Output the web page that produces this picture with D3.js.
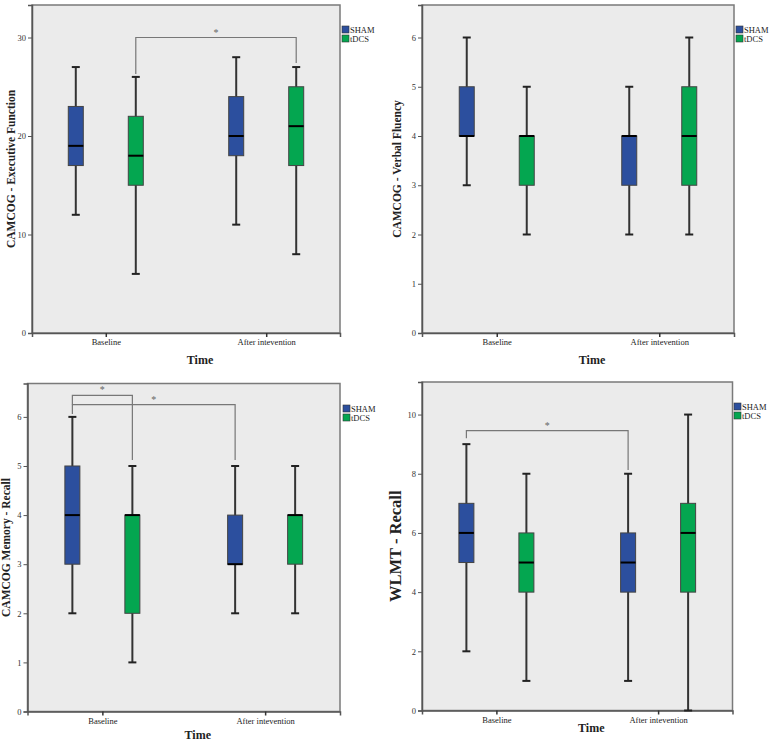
<!DOCTYPE html>
<html>
<head>
<meta charset="utf-8">
<script src="https://cdn.jsdelivr.net/npm/d3@7"></script>
<style>
  body { margin: 0; background: #fff; }
  svg { display: block; }
  text { font-family: "Liberation Serif", "Times New Roman", serif; }
</style>
</head>
<body>
<div id="chart"></div>
<script>
// categories and groups
const times = ["Baseline", "After intervention"];
const timeLabels = [["Baseline", "After intevention"], ["Baseline", "After intevention"],
                    ["Baseline", "After intevention"], ["Baseline", "After intevention"]];
const groups = ["SHAM", "tDCS"];

// box stats: [min, q1, median, q3, max] in order SHAM-Baseline, tDCS-Baseline, SHAM-After, tDCS-After
const execFunction = [[12, 17, 19, 23, 27], [6, 15, 18, 22, 26], [11, 18, 20, 24, 28], [8, 17, 21, 25, 27]];
const verbalFluency = [[3, 4, 4, 5, 6], [2, 3, 4, 4, 5], [2, 3, 4, 4, 5], [2, 3, 4, 5, 6]];
const memoryRecall = [[2, 3, 4, 5, 6], [1, 2, 4, 4, 5], [2, 3, 3, 4, 5], [2, 3, 4, 4, 5]];
const wlmtRecall = [[2, 5, 6, 7, 9], [1, 4, 5, 6, 8], [1, 4, 5, 6, 8], [0, 4, 6, 7, 10]];

const yTitles = ["CAMCOG - Executive Function", "CAMCOG - Verbal Fluency", "CAMCOG Memory - Recall", "WLMT - Recall"];
const yTicks = [[0, 10, 20, 30], [0, 1, 2, 3, 4, 5, 6], [0, 1, 2, 3, 4, 5, 6], [0, 2, 4, 6, 8, 10]];
const yMax = [33.3, 6.66, 6.68, 11.1];

// significance brackets: [fromIndex, toIndex, level, leftDrop, rightDrop]
const sigExec = [[1, 3, 30, 26.3, 27.4]];
const sigVerbal = [];
const sigMemory = [[0, 1, 6.44, 6.25, 5.12], [0, 2, 6.25, 6.06, 5.12]];
const sigWlmt = [[0, 2, 9.46, 9.2, 8.13]];

const colors = { SHAM: "#2c4f9e", tDCS: "#04a650" };

const panels = [
  { stats: execFunction, sig: sigExec, frame: [32, 5, 340, 333], titleX: 11, titleSize: 11.5, timeY: 364, legend: [342, 26] },
  { stats: verbalFluency, sig: sigVerbal, frame: [422, 5, 734, 333], titleX: 397, titleSize: 11.5, timeY: 364, legend: [736, 26] },
  { stats: memoryRecall, sig: sigMemory, frame: [27.5, 383.5, 340, 711.5], titleX: 6, titleSize: 11.5, timeY: 739, legend: [343, 405] },
  { stats: wlmtRecall, sig: sigWlmt, frame: [422, 382, 732.5, 710.5], titleX: 395, titleSize: 16.5, timeY: 732, legend: [734, 403] }
];

const svg = d3.select("#chart").append("svg")
  .attr("width", 771)
  .attr("height", 742);

panels.forEach((p, i) => {
  const [x0, y0, x1, y1] = p.frame;
  const g = svg.append("g");

  const x = d3.scalePoint().domain(times).range([x0, x1]).padding(0.46);
  const xg = d3.scalePoint().domain(groups).range([-30, 30]);
  const y = d3.scaleLinear().domain([0, yMax[i]]).range([y1, y0]);
  const boxW = 15;

  const cells = [];
  times.forEach((t, ti) => groups.forEach((gr, gi) => {
    cells.push({ time: t, group: gr, s: p.stats[ti * 2 + gi] });
  }));
  const cx = d => x(d.time) + xg(d.group);

  // plot area
  g.append("rect")
    .attr("x", x0).attr("y", y0)
    .attr("width", x1 - x0).attr("height", y1 - y0)
    .attr("fill", "#ebebeb")
    .attr("stroke", "#7a7a7a").attr("stroke-width", 1.5);

  // axes
  const yAxis = d3.axisLeft(y).tickValues(yTicks[i]).tickFormat(d3.format("d")).tickSize(4).tickPadding(2);
  const ya = g.append("g").attr("transform", `translate(${x0},0)`).call(yAxis);
  ya.select(".domain").attr("stroke", "#555").attr("stroke-width", 1.5);
  ya.selectAll(".tick line").attr("stroke", "#555");
  ya.selectAll(".tick text").attr("font-family", "Liberation Serif, serif").attr("font-size", 8.5).attr("fill", "#333");

  const xAxis = d3.axisBottom(x).tickSize(4).tickPadding(2).tickFormat((d, k) => timeLabels[i][k]);
  const xa = g.append("g").attr("transform", `translate(0,${y1})`).call(xAxis);
  xa.select(".domain").attr("stroke", "#555").attr("stroke-width", 1.5);
  xa.selectAll(".tick line").attr("stroke", "#333").attr("stroke-width", 1.5);
  xa.selectAll(".tick text").attr("font-family", "Liberation Serif, serif").attr("font-size", 8.5).attr("fill", "#222");

  // whiskers
  const bx = g.selectAll(".bx").data(cells).join("g").attr("class", "bx");
  bx.append("line")
    .attr("x1", cx).attr("x2", cx)
    .attr("y1", d => y(d.s[0])).attr("y2", d => y(d.s[4]))
    .attr("stroke", "#333").attr("stroke-width", 2);
  [0, 4].forEach(k => {
    bx.append("line")
      .attr("x1", d => cx(d) - 4).attr("x2", d => cx(d) + 4)
      .attr("y1", d => y(d.s[k])).attr("y2", d => y(d.s[k]))
      .attr("stroke", "#222").attr("stroke-width", 2);
  });
  bx.append("rect")
    .attr("x", d => cx(d) - boxW / 2).attr("width", boxW)
    .attr("y", d => y(d.s[3])).attr("height", d => y(d.s[1]) - y(d.s[3]))
    .attr("fill", d => colors[d.group])
    .attr("stroke", "#444").attr("stroke-width", 1);
  bx.append("line")
    .attr("x1", d => cx(d) - boxW / 2).attr("x2", d => cx(d) + boxW / 2)
    .attr("y1", d => y(d.s[2])).attr("y2", d => y(d.s[2]))
    .attr("stroke", "#000").attr("stroke-width", 2);

  // significance brackets
  p.sig.forEach(b => {
    const a = cells[b[0]], c = cells[b[1]];
    const xa_ = cx(a), xc = cx(c);
    g.append("path")
      .attr("d", `M${xa_},${y(b[3])}V${y(b[2])}H${xc}V${y(b[4])}`)
      .attr("fill", "none").attr("stroke", "#777").attr("stroke-width", 1.2);
    g.append("text")
      .attr("x", (xa_ + xc) / 2).attr("y", y(b[2]) - 2)
      .attr("text-anchor", "middle")
      .attr("font-size", 10).attr("fill", "#666")
      .text("*");
  });

  // titles
  g.append("text")
    .attr("transform", `translate(${p.titleX},${(y0 + y1) / 2}) rotate(-90)`)
    .attr("text-anchor", "middle")
    .attr("dominant-baseline", "central")
    .attr("font-weight", "bold").attr("font-size", p.titleSize).attr("fill", "#222")
    .text(yTitles[i]);
  g.append("text")
    .attr("x", (x0 + x1) / 2 + 14).attr("y", p.timeY)
    .attr("text-anchor", "middle")
    .attr("font-weight", "bold").attr("font-size", 12).attr("fill", "#222")
    .text("Time");

  // legend
  const [lx, ly] = p.legend;
  groups.forEach((gr, k) => {
    g.append("rect")
      .attr("x", lx).attr("y", ly + k * 9)
      .attr("width", 7).attr("height", 7)
      .attr("fill", colors[gr]).attr("stroke", "#333").attr("stroke-width", 0.6);
    g.append("text")
      .attr("x", lx + 8).attr("y", ly + k * 9 + 6.5)
      .attr("font-size", 8.5).attr("fill", "#222")
      .text(gr);
  });
});
</script>
</body>
</html>
